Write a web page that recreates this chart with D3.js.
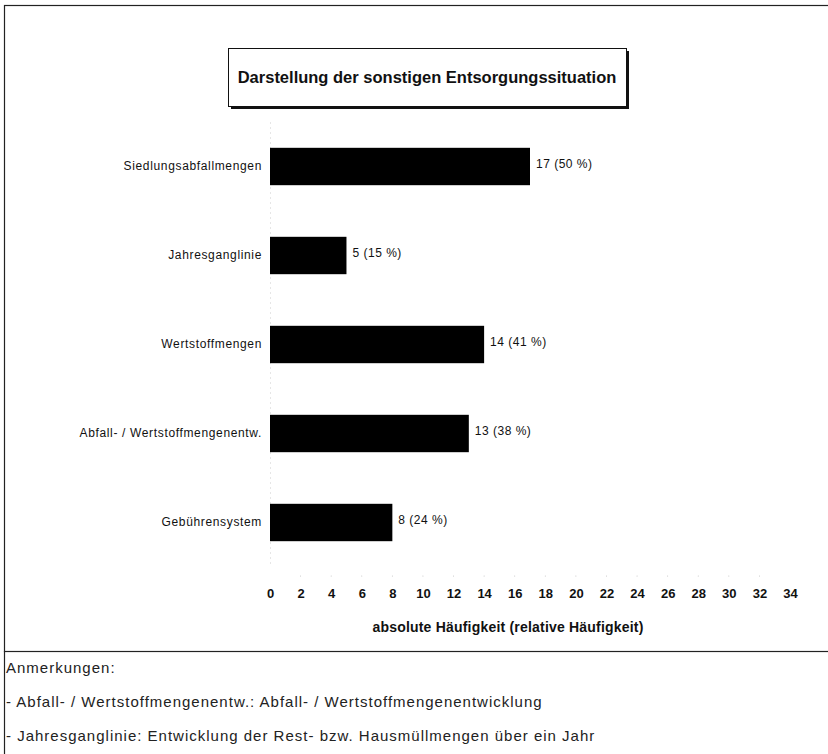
<!DOCTYPE html>
<html>
<head>
<meta charset="utf-8">
<script src="https://cdn.jsdelivr.net/npm/d3@7/dist/d3.min.js"></script>
<style>
  html, body { margin: 0; padding: 0; background: #fff; }
  svg { display: block; font-family: "Liberation Sans", Arial, sans-serif; }
</style>
</head>
<body>
<svg id="chart" width="828" height="754"></svg>
<script>
// Bereiche der sonstigen Entsorgungssituation
const categories = [
  "Siedlungsabfallmengen",
  "Jahresganglinie",
  "Wertstoffmengen",
  "Abfall- / Wertstoffmengenentw.",
  "Gebührensystem"
];
const counts = [17, 5, 14, 13, 8];
const shares = [50, 15, 41, 38, 24];
const xTicks = d3.range(0, 35, 2);
const notes = [
  "Anmerkungen:",
  "- Abfall- / Wertstoffmengenentw.: Abfall- / Wertstoffmengenentwicklung",
  "- Jahresganglinie: Entwicklung der Rest- bzw. Hausmüllmengen über ein Jahr"
];

const svg = d3.select("#chart");
const ink = "#111";

// Rahmen um Diagramm und Anmerkungen
svg.append("rect").attr("x", 4.5).attr("y", 5.5).attr("width", 830).attr("height", 646)
  .attr("fill", "none").attr("stroke", "#222").attr("stroke-width", 1.2);
svg.append("line").attr("x1", 4.5).attr("x2", 4.5).attr("y1", 651).attr("y2", 754)
  .attr("stroke", "#222").attr("stroke-width", 1.2);

// Titelkasten mit Schatten
const tb = { x: 228, y: 48, w: 398, h: 58 };
svg.append("rect").attr("x", tb.x + 3).attr("y", tb.y + 3).attr("width", tb.w).attr("height", tb.h)
  .attr("fill", "#111");
svg.append("rect").attr("x", tb.x + 0.5).attr("y", tb.y + 0.5).attr("width", tb.w).attr("height", tb.h)
  .attr("fill", "#fff").attr("stroke", "#111");
svg.append("text").attr("x", tb.x + tb.w / 2).attr("y", tb.y + tb.h / 2 + 5.5)
  .attr("text-anchor", "middle").attr("font-weight", "bold").attr("font-size", 16.5)
  .attr("fill", ink).text("Darstellung der sonstigen Entsorgungssituation");

// Skalen
const x = d3.scaleLinear().domain([0, 34]).range([270, 790]);
const y = d3.scaleBand().domain(categories).range([122, 567]).paddingInner(0.58).paddingOuter(0.29);

// Achsen
const xAxis = d3.axisBottom(x).tickValues(xTicks).tickSize(0).tickPadding(0);
const gx = svg.append("g").attr("transform", "translate(0,589)").call(xAxis);
gx.select(".domain").remove();
gx.selectAll("text").attr("font-size", 13).attr("font-weight", "bold").attr("fill", ink)
  .attr("font-family", "Liberation Sans, Arial, sans-serif");

// schwach sichtbare Hilfspunkte oberhalb der Skala
svg.append("g").selectAll("circle").data(xTicks.slice(1, -1)).join("circle")
  .attr("cx", d => x(d)).attr("cy", 576).attr("r", 0.5).attr("fill", "#bbb");

const yAxis = d3.axisLeft(y).tickSize(0).tickPadding(8);
const gy = svg.append("g").attr("transform", `translate(${x(0)},0)`).call(yAxis);
gy.select(".domain").attr("stroke", "#ccc").attr("stroke-dasharray", "1,4");
gy.selectAll("text").attr("font-size", 12).attr("fill", ink)
  .attr("font-family", "Liberation Sans, Arial, sans-serif").attr("letter-spacing", 0.65);

// Balken
const rows = categories.map((c, i) => ({ c, n: counts[i], p: shares[i] }));
svg.append("g").selectAll("rect").data(rows).join("rect")
  .attr("x", x(0)).attr("y", d => y(d.c))
  .attr("width", d => x(d.n) - x(0)).attr("height", y.bandwidth())
  .attr("fill", "#000");

// Werte an den Balken
svg.append("g").selectAll("text").data(rows).join("text")
  .attr("x", d => x(d.n) + 6).attr("y", d => y(d.c) + y.bandwidth() / 2 + 1)
  .attr("font-size", 12).attr("fill", ink).attr("letter-spacing", 0.5)
  .text(d => `${d.n} (${d.p} %)`);

// Achsentitel
svg.append("text").attr("x", 508).attr("y", 632).attr("text-anchor", "middle")
  .attr("font-weight", "bold").attr("font-size", 14).attr("fill", ink).attr("letter-spacing", 0.2)
  .text("absolute Häufigkeit (relative Häufigkeit)");

// Anmerkungen
svg.append("g").selectAll("text").data(notes).join("text")
  .attr("x", 6).attr("y", (d, i) => 673 + i * 34)
  .attr("font-size", 15).attr("letter-spacing", 1.0).attr("fill", "#222").text(d => d);
</script>
</body>
</html>
